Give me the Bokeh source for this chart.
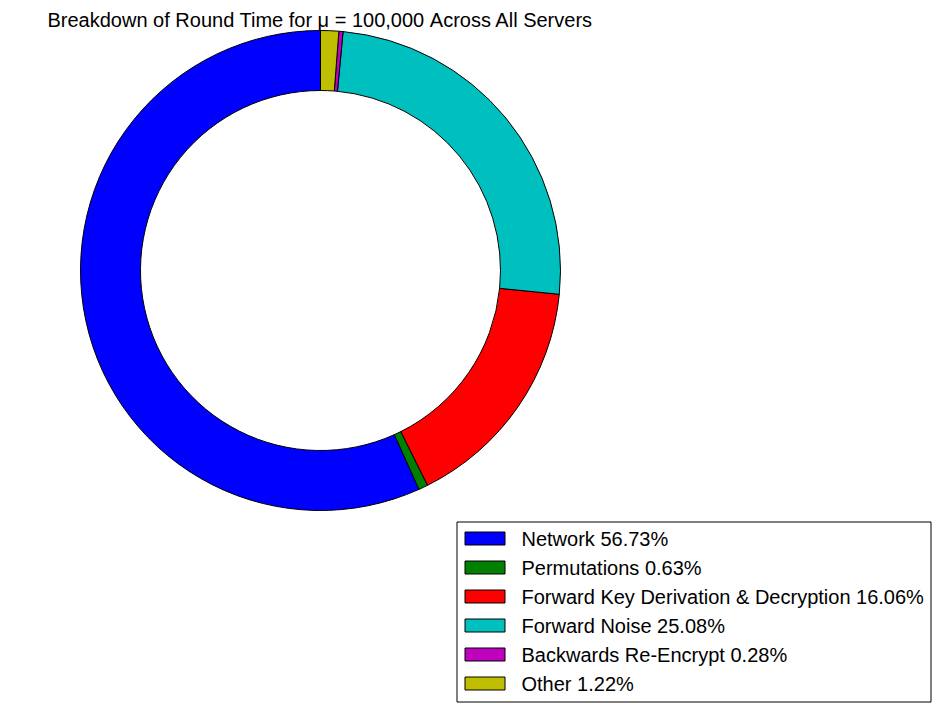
import math
from bokeh.plotting import figure
from bokeh.models import Range1d, ColumnDataSource
from bokeh.core.properties import value
from bokeh.embed import file_html
from bokeh.resources import INLINE

title_text = "Breakdown of Round Time for \u03bc = 100,000 Across All Servers"
categories = ["Network", "Permutations", "Forward Key Derivation & Decryption",
              "Forward Noise", "Backwards Re-Encrypt", "Other"]
percents = [56.73, 0.63, 16.06, 25.08, 0.28, 1.22]
colors = ["#0000ff", "#008000", "#ff0000", "#00bfbf", "#bf00bf", "#bfbf00"]

W, H = 932, 703
PAGE_H = 711
FONT = "Liberation Sans"

def py(y):
    # page y (downward) -> data y (upward)
    return PAGE_H - y

p = figure(width=W, height=H, output_backend="svg", toolbar_location=None,
           x_range=Range1d(0, W), y_range=Range1d(PAGE_H - H, PAGE_H),
           min_border=0)
p.axis.visible = False
p.grid.visible = False
p.outline_line_color = None
p.background_fill_color = "white"
p.border_fill_color = "white"

total = sum(percents)
starts, ends = [], []
cum = 0.0
for v in percents:
    starts.append(math.pi / 2 + 2 * math.pi * cum / total)
    cum += v
    ends.append(math.pi / 2 + 2 * math.pi * cum / total)

src = ColumnDataSource(dict(start=starts, end=ends, color=colors))
cx, cy, r_out, r_in = 320, py(270), 240, 180
p.annular_wedge(x=cx, y=cy, inner_radius=r_in, outer_radius=r_out,
                start_angle="start", end_angle="end", direction="anticlock",
                fill_color="color", line_color="black", line_width=1, source=src)

# title
p.text(x=[320], y=[py(19)], text=[title_text], text_align="center",
       text_baseline="middle", text_font=value(FONT), text_font_size="20px",
       text_color="black")

# legend
lx0, lx1, ly0, ly1 = 456.5, 930.5, 521.5, 701.5
p.quad(left=[lx0], right=[lx1], top=[py(ly0)], bottom=[py(ly1)],
       fill_color="white", line_color="black", line_width=1)
row0, pitch = 538, 29
rows = [row0 + i * pitch for i in range(len(categories))]
labels = [f"{c} {v:.2f}%" for c, v in zip(categories, percents)]
p.quad(left=[464.5] * len(rows), right=[504.5] * len(rows),
       top=[py(y - 6.5) for y in rows], bottom=[py(y + 6.5) for y in rows],
       fill_color=colors, line_color="black", line_width=1)
p.text(x=[521] * len(rows), y=[py(y) for y in rows], text=labels,
       text_align="left", text_baseline="middle", text_font=value(FONT),
       text_font_size="20px", text_color="black")

open("out.html", "w").write(file_html(p, INLINE))
